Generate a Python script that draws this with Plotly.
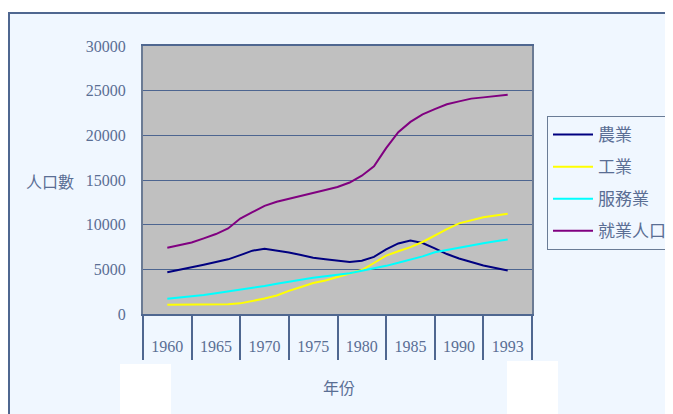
import plotly.graph_objects as go

# ---- data ----
year_labels = ["1960", "1965", "1970", "1975", "1980", "1985", "1990", "1993"]
x_pos = [0, 0.25, 0.5, 0.75, 1, 1.25, 1.5, 1.75, 2, 2.25, 2.5, 2.75, 3, 3.25, 3.5,
         3.75, 4, 4.25, 4.5, 4.75, 5, 5.25, 5.5, 5.75, 6, 6.25, 6.5, 6.75, 7]
agriculture = [4680, 4940, 5210, 5510, 5810, 6120, 6590, 7090, 7300, 7110, 6890, 6600,
               6290, 6130, 5950, 5820, 5970, 6400, 7240, 7900, 8230, 7950, 7350, 6710,
               6220, 5820, 5430, 5140, 4870]
industry = [1030, 1030, 1030, 1030, 1030, 1090, 1190, 1420, 1730, 2070, 2590, 3020,
            3470, 3760, 4120, 4480, 4920, 5710, 6530, 7020, 7490, 8060, 8800, 9490,
            10150, 10480, 10840, 11020, 11220]
services = [1700, 1830, 1950, 2130, 2320, 2510, 2720, 2930, 3140, 3380, 3640, 3840,
            4050, 4210, 4360, 4550, 4840, 5100, 5390, 5730, 6080, 6450, 6910, 7180,
            7450, 7670, 7930, 8140, 8340]
employed = [7410, 7710, 8010, 8470, 8950, 9570, 10690, 11400, 12100, 12570, 12880, 13210,
            13530, 13870, 14210, 14720, 15480, 16530, 18560, 20350, 21500, 22340, 22930,
            23480, 23800, 24110, 24250, 24390, 24550]
series_names = ["農業", "工業", "服務業", "就業人口"]
y_ticks = [0, 5000, 10000, 15000, 20000, 25000, 30000]

# ---- layout geometry (page has an 8px body margin) ----
OFF = 8
W, H = 665, 406
ML, MR, MT, MB = 135, 141, 38, 100
PW, PH = W - ML - MR, H - MT - MB


def px(xs):
    return (xs - OFF - ML) / PW


def py(ys):
    return (H - MB - (ys - OFF)) / PH


TXT = "#5A6E94"
GRID = "#4D6590"
FRAME = "#4F6790"
BG = "#F0F7FF"
FONT = "Liberation Serif, Noto Sans CJK TC, serif"

colors = ["#000080", "#FFFF00", "#00FFFF", "#800080"]
values = [agriculture, industry, services, employed]

fig = go.Figure()
for i, (name, vals, col) in enumerate(zip(series_names, values, colors)):
    fig.add_trace(go.Scatter(x=x_pos, y=vals, mode="lines", name=name,
                             legendgroup=str(i),
                             line=dict(color=col, width=2)))

shapes = [
    # white strip above the frame
    dict(type="rect", xref="paper", yref="paper", x0=px(0), x1=px(700), y0=py(12), y1=py(0),
         fillcolor="white", line=dict(width=0), layer="below"),
    # frame border
    dict(type="line", xref="paper", yref="paper", x0=px(8), x1=px(700), y0=py(13), y1=py(13),
         line=dict(color=FRAME, width=2), layer="below"),
    dict(type="line", xref="paper", yref="paper", x0=px(9), x1=px(9), y0=py(12), y1=py(420),
         line=dict(color=FRAME, width=2), layer="below"),
    # white blocks at bottom
    dict(type="rect", xref="paper", yref="paper", x0=px(120), x1=px(171), y0=py(420), y1=py(364),
         fillcolor="white", line=dict(width=0), layer="above"),
    dict(type="rect", xref="paper", yref="paper", x0=px(507), x1=px(558), y0=py(420), y1=py(361),
         fillcolor="white", line=dict(width=0), layer="above"),
]

annotations = [
    dict(text="人口數", xref="paper", yref="paper", x=px(49.5), y=py(182),
         xanchor="center", yanchor="middle",
         showarrow=False, font=dict(size=16, color=TXT, family=FONT)),
    dict(text="年份", xref="paper", yref="paper", x=px(338.5), y=py(388),
         xanchor="center", yanchor="middle",
         showarrow=False, font=dict(size=16, color=TXT, family=FONT)),
]

fig.update_layout(
    width=W, height=H,
    margin=dict(l=ML, r=MR, t=MT, b=MB, autoexpand=False),
    paper_bgcolor=BG,
    plot_bgcolor="#C0C0C0",
    font=dict(family=FONT, size=16, color=TXT),
    showlegend=True,
    legend=dict(x=px(547), y=py(116), xanchor="left", yanchor="top",
                bgcolor=BG, bordercolor="#6A7C96", borderwidth=1,
                font=dict(size=17, color=TXT, family=FONT),
                tracegroupgap=7, itemwidth=40),
    shapes=shapes,
    annotations=annotations,
    xaxis=dict(range=[-0.5, 7.5], tickmode="array", tickvals=list(range(len(year_labels))),
               ticktext=year_labels, ticks="", showgrid=False, zeroline=False,
               showline=True, linecolor=FRAME, linewidth=2, mirror=True,
               ticklabelstandoff=17, automargin=False,
               tickfont=dict(size=16, color=TXT, family=FONT),
               minor=dict(ticks="outside", tick0=-0.5, dtick=1, ticklen=44,
                          tickcolor=FRAME, tickwidth=1.5, showgrid=False)),
    yaxis=dict(range=[0, 30000], tickmode="array", tickvals=y_ticks, tickformat="d",
               ticks="", showgrid=True, gridcolor=GRID, gridwidth=1, zeroline=False,
               showline=True, linecolor="#6B7B94", linewidth=2, mirror=True,
               ticklabelstandoff=12, automargin=False,
               tickfont=dict(size=16, color=TXT, family=FONT)),
)

fig.write_html("out.html")
